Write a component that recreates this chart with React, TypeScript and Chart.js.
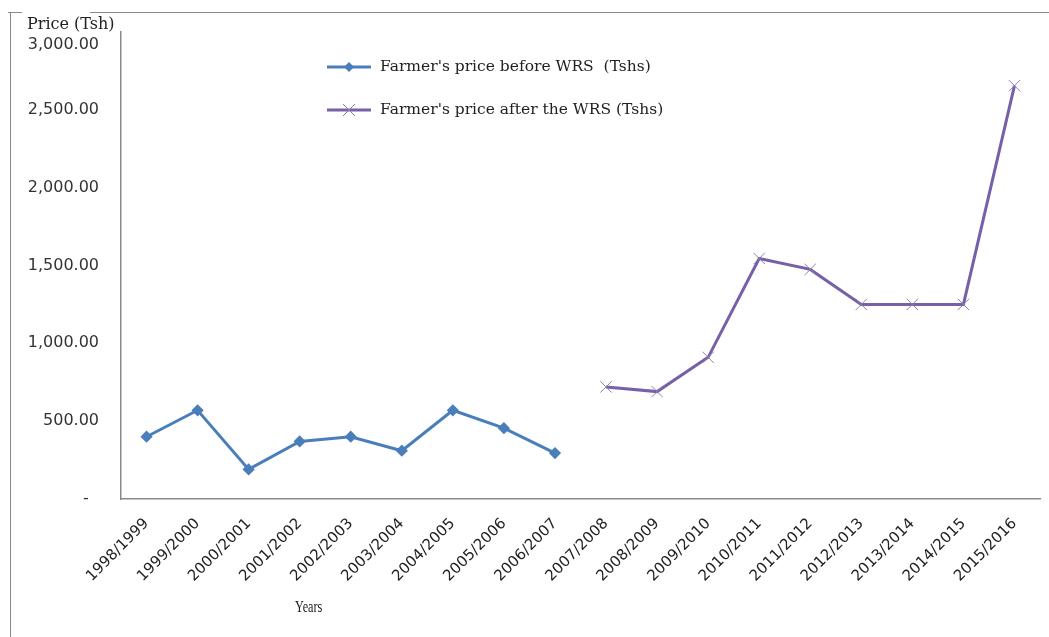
import React, { useEffect, useRef } from "react";
import { Chart, registerables } from "chart.js";

Chart.register(...registerables);

const years = [
  "1998/1999", "1999/2000", "2000/2001", "2001/2002", "2002/2003", "2003/2004",
  "2004/2005", "2005/2006", "2006/2007", "2007/2008", "2008/2009", "2009/2010",
  "2010/2011", "2011/2012", "2012/2013", "2013/2014", "2014/2015", "2015/2016",
];
const beforeWRS = [400, 570, 190, 370, 400, 310, 570, 455, 295, null, null, null, null, null, null, null, null, null];
const afterWRS = [null, null, null, null, null, null, null, null, null, 720, 690, 910, 1545, 1475, 1250, 1250, 1250, 2655];
const beforeLabel = "Farmer's price before WRS  (Tshs)";
const afterLabel = "Farmer's price after the WRS (Tshs)";
const yTicks = [0, 500, 1000, 1500, 2000, 2500, 3000];

const BLUE = "#4a7ebb";
const PURPLE = "#7660a8";

const legendPlugin = {
  id: "customLegend",
  afterDraw(chart: any) {
    const ctx = chart.ctx;
    const items = chart.data.datasets;
    const ys = [67, 110];
    ctx.save();
    items.forEach((ds: any, i: number) => {
      const y = ys[i];
      ctx.strokeStyle = ds.borderColor;
      ctx.lineWidth = 3;
      ctx.beginPath();
      ctx.moveTo(327, y);
      ctx.lineTo(371, y);
      ctx.stroke();
      if (i === 0) {
        ctx.fillStyle = ds.borderColor;
        ctx.beginPath();
        ctx.moveTo(349, y - 5);
        ctx.lineTo(354, y);
        ctx.lineTo(349, y + 5);
        ctx.lineTo(344, y);
        ctx.closePath();
        ctx.fill();
      } else {
        ctx.strokeStyle = ds.pointBorderColor;
        ctx.lineWidth = 1;
        ctx.beginPath();
        ctx.moveTo(343, y - 6);
        ctx.lineTo(355, y + 6);
        ctx.moveTo(355, y - 6);
        ctx.lineTo(343, y + 6);
        ctx.stroke();
      }
      ctx.fillStyle = "#222";
      ctx.font = "15.5px 'DejaVu Serif'";
      ctx.textBaseline = "middle";
      ctx.textAlign = "left";
      ctx.fillText(ds.label, 380, y);
    });
    ctx.restore();
  },
};

export default function App() {
  const ref = useRef<HTMLCanvasElement>(null);
  useEffect(() => {
    if (!ref.current) return;
    const chart = new Chart(ref.current, {
      type: "line",
      data: {
        labels: years,
        datasets: [
          {
            label: beforeLabel,
            data: beforeWRS,
            borderColor: BLUE,
            backgroundColor: BLUE,
            borderWidth: 3,
            pointStyle: "rectRot",
            pointRadius: 4,
            pointBackgroundColor: BLUE,
            pointBorderColor: BLUE,
            spanGaps: false,
          },
          {
            label: afterLabel,
            data: afterWRS,
            borderColor: PURPLE,
            backgroundColor: PURPLE,
            borderWidth: 3,
            pointStyle: "crossRot",
            pointRadius: 8,
            pointBorderWidth: 1,
            pointBorderColor: "#8d80a8",
            spanGaps: false,
          },
        ],
      },
      options: {
        animation: false,
        responsive: false,
        devicePixelRatio: 1,
        layout: { padding: { left: 8, top: 32, right: 8, bottom: 0 } },
        plugins: {
          legend: { display: false },
          tooltip: { enabled: false },
        },
        scales: {
          x: {
            offset: true,
            grid: { display: false, drawTicks: false },
            border: { display: true, color: "#8a8a8a", width: 1.5 },
            ticks: {
              autoSkip: false,
              minRotation: 45,
              maxRotation: 45,
              padding: 16,
              color: "#222",
              font: { family: "'DejaVu Sans'", size: 15 },
            },
            afterFit: (s: any) => {
              s.height = 138;
              s.paddingLeft = 0;
              s.paddingRight = 0;
            },
          },
          y: {
            min: 0,
            max: 3000,
            afterBuildTicks: (s: any) => {
              s.ticks = yTicks.map((v) => ({ value: v }));
            },
            grid: { display: false, drawTicks: false },
            border: { display: true, color: "#8a8a8a", width: 1.5 },
            ticks: {
              padding: 22,
              color: "#333",
              font: { family: "'DejaVu Sans'", size: 16, lineHeight: 1.6 },
              callback: (v: any) => {
                const n = Number(v);
                if (n === 0) return "-  ";
                const s = n.toLocaleString("en-US", { minimumFractionDigits: 2, maximumFractionDigits: 2 });
                return n === 3000 ? ["", s] : s;
              },
            },
            afterFit: (s: any) => {
              s.width = 113;
              s.paddingTop = 0;
              s.paddingBottom = 0;
            },
          },
        },
      },
      plugins: [legendPlugin],
    });
    return () => chart.destroy();
  }, []);

  return (
    <div style={{ position: "fixed", left: 0, top: 0, width: 1049, height: 637, background: "#fff", overflow: "hidden" }}>
      <canvas ref={ref} width={1049} height={637} style={{ position: "absolute", left: 0, top: 0 }} />
      <div style={{ position: "absolute", left: 10, top: 12, width: 1, height: 630, background: "#8a8a8a" }} />
      <div style={{ position: "absolute", left: 8, top: 12, width: 14, height: 1, background: "#8a8a8a" }} />
      <div style={{ position: "absolute", left: 90, top: 12, width: 960, height: 1, background: "#8a8a8a" }} />
      <div
        style={{
          position: "absolute",
          left: 27,
          top: 14,
          fontFamily: "'DejaVu Serif', serif",
          fontSize: 16,
          color: "#222",
          whiteSpace: "nowrap",
        }}
      >
        Price (Tsh)
      </div>
      <div
        style={{
          position: "absolute",
          left: 290,
          top: 597,
          width: 36,
          textAlign: "center",
          fontFamily: "'Liberation Serif', serif",
          fontSize: 17,
          color: "#222",
          transform: "scaleX(0.72)",
        }}
      >
        Years
      </div>
    </div>
  );
}
